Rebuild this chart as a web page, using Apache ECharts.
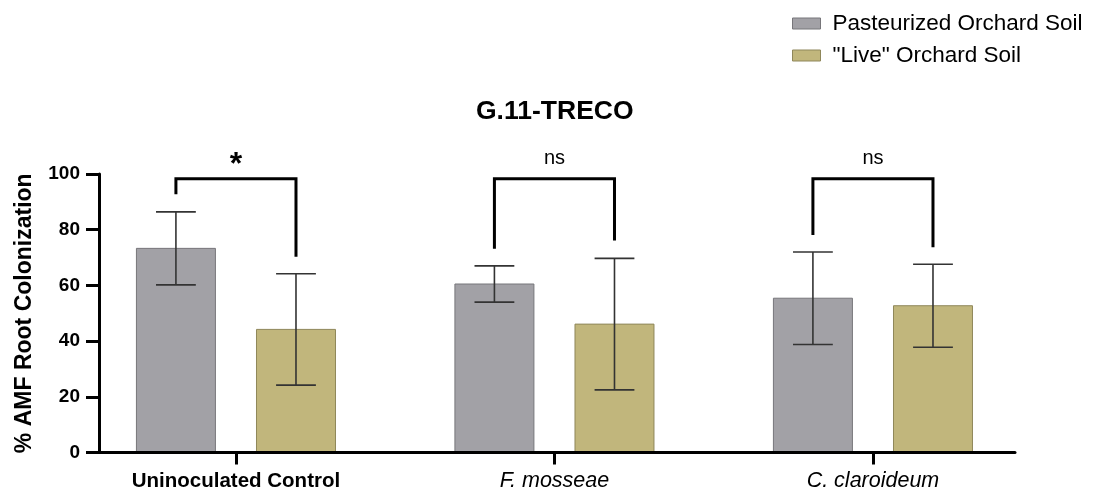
<!DOCTYPE html>
<html>
<head>
<meta charset="utf-8">
<script src="https://cdn.jsdelivr.net/npm/echarts@6/dist/echarts.min.js"></script>
<style>
html,body{margin:0;padding:0;background:#fff;}
#chart{width:1093px;height:488px;}
</style>
</head>
<body>
<div id="chart"></div>
<script>
const categories = ['Uninoculated Control', 'F. mosseae', 'C. claroideum'];
const seriesNames = ['Pasteurized Orchard Soil', '"Live" Orchard Soil'];
const pastMean = [73.3, 60.5, 55.4];
const pastSD = [13.1, 6.5, 16.6];
const liveMean = [44.2, 46.1, 52.7];
const liveSD = [20.0, 23.6, 14.9];
const bracketTop = [98.3, 98.3, 98.3];
const bracketLeft = [92.7, 73.2, 78.1];
const bracketRight = [70.3, 76.1, 73.7];
const sigLabels = ['*', 'ns', 'ns'];
const yTicks = [0, 20, 40, 60, 80, 100];

const GRAY = '#A2A1A6', GRAY_B = '#77767A';
const GOLD = '#C1B67C', GOLD_B = '#8F875A';
const OFF = 0.1885, HALF = 0.124, CAP = 0.0625;

const chart = echarts.init(document.getElementById('chart'));
const FONT = '"Liberation Sans", Arial, sans-serif';

function barSeries(name, means, sds, off, color, border) {
  return {
    type: 'custom', name: name,
    data: means.map((m, i) => [i, m, sds[i]]),
    encode: { x: 0, y: 1 },
    itemStyle: { color: color, borderColor: border, borderWidth: 1 },
    z: 2,
    renderItem: function (params, api) {
      const i = api.value(0), m = api.value(1), s = api.value(2);
      const cx = i + off;
      const p0 = api.coord([cx - HALF, m]);
      const p1 = api.coord([cx + HALF, 0]);
      const t = api.coord([cx, m + s]);
      const b = api.coord([cx, m - s]);
      const tl = api.coord([cx - CAP, m + s]), tr = api.coord([cx + CAP, m + s]);
      const bl = api.coord([cx - CAP, m - s]), br = api.coord([cx + CAP, m - s]);
      const ls = { stroke: '#333', lineWidth: 1.6 };
      return {
        type: 'group',
        children: [
          { type: 'rect', shape: { x: p0[0], y: p0[1], width: p1[0] - p0[0], height: p1[1] - p0[1] },
            style: { fill: color, stroke: border, lineWidth: 1 } },
          { type: 'line', shape: { x1: t[0], y1: t[1], x2: b[0], y2: b[1] }, style: ls },
          { type: 'line', shape: { x1: tl[0], y1: tl[1], x2: tr[0], y2: tr[1] }, style: ls },
          { type: 'line', shape: { x1: bl[0], y1: bl[1], x2: br[0], y2: br[1] }, style: ls }
        ]
      };
    }
  };
}

const bracketSeries = {
  type: 'custom', name: 'brackets', silent: true,
  data: categories.map((c, i) => [i, bracketTop[i], bracketLeft[i], bracketRight[i]]),
  encode: { x: 0, y: 1 },
  z: 4,
  renderItem: function (params, api) {
    const i = api.value(0), top = api.value(1), l = api.value(2), r = api.value(3);
    const a = api.coord([i - OFF, l]);
    const b = api.coord([i - OFF, top]);
    const c = api.coord([i + OFF, top]);
    const d = api.coord([i + OFF, r]);
    const mid = api.coord([i, top]);
    const lab = sigLabels[i];
    const isStar = lab === '*';
    return {
      type: 'group',
      children: [
        { type: 'polyline', shape: { points: [a, b, c, d] },
          style: { stroke: '#000', lineWidth: 3, fill: null, lineJoin: 'miter' } },
        { type: 'text', x: mid[0], y: mid[1] - (isStar ? 14 : 20),
          style: { text: lab, fill: '#000', align: 'center', verticalAlign: 'middle',
                   font: (isStar ? 'bold 32px ' : '20px ') + FONT } }
      ]
    };
  }
};

const option = {
  animation: false,
  backgroundColor: '#fff',
  textStyle: { fontFamily: FONT },
  title: {
    text: 'G.11-TRECO', left: 471, top: 93,
    textStyle: { fontFamily: FONT, fontSize: 26.5, fontWeight: 'bold', color: '#000' }
  },
  legend: {
    orient: 'vertical', left: 787, top: 7, itemWidth: 28, itemHeight: 11, itemGap: 9,
    icon: 'rect',
    data: [
      { name: seriesNames[0], itemStyle: { color: GRAY, borderColor: GRAY_B, borderWidth: 1 } },
      { name: seriesNames[1], itemStyle: { color: GOLD, borderColor: GOLD_B, borderWidth: 1 } }
    ],
    textStyle: { fontFamily: FONT, fontSize: 22.5, color: '#000', padding: [0, 0, 0, 7] }
  },
  grid: { left: 99, right: 78, top: 174, bottom: 35.5, containLabel: false, outerBoundsMode: 'none' },
  xAxis: {
    type: 'value', min: -0.430, max: 2.446, z: 5,
    splitLine: { show: false },
    axisLine: { show: true, onZero: false, lineStyle: { color: '#000', width: 3 } },
    axisTick: { show: true, customValues: [0, 1, 2], length: 12, lineStyle: { color: '#000', width: 3 } },
    axisLabel: {
      customValues: [0, 1, 2], margin: 18,
      formatter: function (v) {
        const i = Math.round(v);
        return i === 0 ? '{b|' + categories[i] + '}' : '{i|' + categories[i] + '}';
      },
      rich: {
        b: { fontFamily: FONT, fontSize: 20.5, fontWeight: 'bold', color: '#000' },
        i: { fontFamily: FONT, fontSize: 21.5, fontStyle: 'italic', color: '#000' }
      }
    }
  },
  yAxis: {
    type: 'value', min: 0, max: 100, interval: 20, z: 5,
    name: '% AMF Root Colonization', nameLocation: 'middle', nameGap: 63, nameRotate: 90,
    nameTextStyle: { fontFamily: FONT, fontSize: 23, fontWeight: 'bold', color: '#000' },
    splitLine: { show: false },
    axisLine: { show: true, onZero: false, lineStyle: { color: '#000', width: 3 } },
    axisTick: { show: true, length: 13, lineStyle: { color: '#000', width: 3 } },
    axisLabel: { margin: 19, fontFamily: FONT, fontSize: 19, fontWeight: 'bold', color: '#000',
      formatter: function (v) { return yTicks.indexOf(v) >= 0 ? String(v) : ''; } }
  },
  series: [
    barSeries(seriesNames[0], pastMean, pastSD, -OFF, GRAY, GRAY_B),
    barSeries(seriesNames[1], liveMean, liveSD, OFF, GOLD, GOLD_B),
    bracketSeries
  ]
};
chart.setOption(option);
</script>
</body>
</html>
